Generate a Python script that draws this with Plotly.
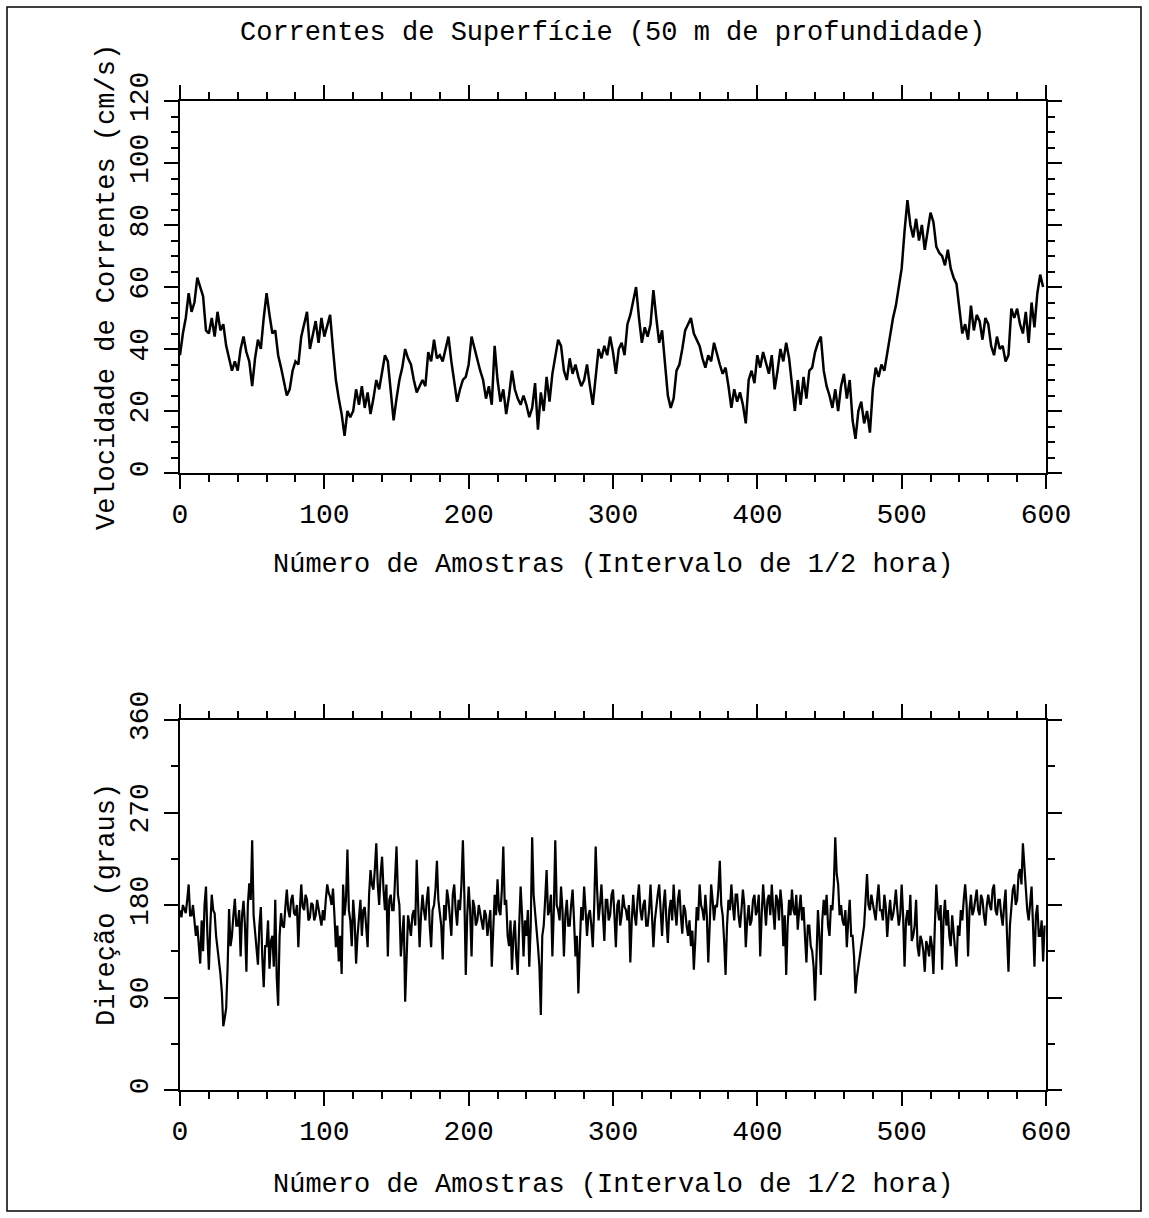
import plotly.graph_objects as go

# ---- data ----
amostras_vel = list(range(0, 600, 2))

velocidade = [
    38, 45, 50, 58, 52, 55, 63, 60, 57, 46,
    45, 50, 44, 52, 46, 48, 41, 37, 33, 36,
    33, 40, 44, 39, 36, 28, 37, 43, 40, 50,
    58, 51, 45, 46, 38, 34, 30, 25, 27, 33,
    36, 35, 44, 48, 52, 40, 45, 49, 42, 50,
    44, 48, 51, 40, 30, 24, 19, 12, 20, 18,
    20, 27, 22, 28, 21, 26, 19, 24, 30, 27,
    32, 38, 36, 27, 17, 24, 30, 34, 40, 37,
    35, 30, 26, 28, 30, 28, 39, 36, 43, 37,
    38, 36, 40, 44, 36, 29, 23, 27, 30, 31,
    35, 44, 40, 36, 33, 30, 24, 28, 22, 41,
    30, 23, 27, 19, 25, 33, 27, 24, 22, 25,
    22, 18, 21, 29, 14, 26, 20, 31, 23, 32,
    38, 43, 41, 33, 30, 37, 32, 35, 31, 28,
    30, 35, 28, 22, 31, 40, 37, 41, 38, 44,
    39, 32, 40, 42, 38, 48, 51, 55, 60, 50,
    42, 47, 44, 48, 59, 50, 42, 46, 34, 25,
    21, 24, 33, 35, 40, 46, 48, 50, 45, 43,
    41, 37, 34, 38, 36, 42, 38, 35, 32, 34,
    28, 21, 27, 23, 26, 22, 16, 30, 33, 29,
    38, 34, 39, 35, 32, 38, 27, 33, 40, 36,
    42, 37, 29, 20, 30, 22, 31, 24, 33, 34,
    39, 42, 44, 33, 28, 25, 21, 27, 20, 28,
    32, 24, 30, 17, 11, 20, 23, 16, 20, 13,
    27, 34, 31, 35, 33, 39, 44, 50, 54, 60,
    66, 78, 88, 80, 76, 82, 75, 80, 72, 78,
    84, 81, 73, 71, 70, 67, 72, 66, 63, 61,
    52, 45, 48, 43, 54, 46, 51, 49, 43, 50,
    48, 41, 38, 44, 40, 41, 36, 38, 53, 50,
    53, 48, 45, 52, 42, 55, 47, 58, 64, 60,
]

amostras_dir = list(range(0, 600))

direcao = [
    175, 168, 180, 176, 172, 185, 200, 170, 170, 180, 168, 150, 160, 140, 123, 165, 135, 180, 198, 150,
    117, 160, 190, 175, 172, 150, 139, 125, 113, 95, 62, 70, 80, 120, 176, 140, 150, 170, 186, 160,
    160, 175, 130, 170, 184, 160, 115, 180, 201, 185, 243, 170, 155, 140, 122, 160, 178, 130, 100, 140,
    140, 165, 118, 145, 150, 120, 185, 110, 82, 150, 172, 160, 158, 178, 195, 175, 168, 185, 190, 172,
    170, 180, 139, 175, 200, 178, 175, 190, 185, 165, 168, 182, 180, 165, 170, 185, 176, 168, 160, 175,
    165, 185, 200, 192, 188, 180, 196, 170, 139, 160, 125, 150, 113, 200, 170, 185, 234, 175, 165, 140,
    185, 165, 123, 150, 170, 185, 150, 175, 178, 160, 139, 190, 214, 200, 195, 215, 240, 200, 180, 210,
    227, 195, 175, 200, 130, 185, 190, 175, 175, 205, 237, 190, 180, 130, 150, 170, 86, 120, 170, 160,
    150, 170, 175, 160, 224, 180, 139, 170, 190, 175, 165, 185, 198, 160, 139, 175, 180, 195, 223, 185,
    175, 160, 127, 180, 165, 195, 185, 170, 150, 190, 200, 175, 160, 185, 175, 200, 243, 190, 112, 170,
    198, 175, 130, 185, 178, 160, 165, 180, 172, 165, 156, 175, 170, 150, 160, 175, 120, 165, 190, 170,
    205, 175, 170, 195, 237, 180, 185, 150, 140, 165, 117, 150, 165, 130, 112, 160, 198, 170, 130, 165,
    150, 175, 120, 160, 246, 190, 175, 160, 140, 120, 73, 150, 160, 185, 214, 170, 175, 190, 130, 175,
    243, 180, 175, 165, 198, 175, 130, 170, 185, 160, 160, 180, 195, 165, 130, 150, 94, 140, 178, 165,
    198, 175, 150, 170, 175, 160, 139, 180, 237, 195, 165, 180, 200, 170, 145, 185, 185, 165, 170, 190,
    195, 170, 139, 180, 185, 160, 170, 190, 178, 175, 165, 180, 124, 165, 190, 170, 160, 185, 200, 175,
    165, 180, 185, 160, 160, 175, 200, 170, 139, 165, 180, 190, 200, 170, 150, 180, 195, 165, 143, 175,
    185, 165, 200, 175, 160, 185, 195, 170, 152, 180, 175, 160, 150, 165, 140, 155, 117, 145, 178, 165,
    200, 180, 175, 165, 190, 170, 124, 160, 200, 185, 165, 180, 178, 195, 223, 180, 170, 145, 112, 160,
    185, 175, 200, 180, 165, 190, 190, 170, 158, 175, 195, 180, 139, 165, 180, 160, 165, 185, 190, 170,
    175, 190, 130, 170, 200, 180, 160, 185, 190, 170, 200, 175, 156, 190, 185, 165, 195, 180, 140, 170,
    112, 160, 185, 170, 195, 175, 170, 190, 156, 175, 190, 165, 178, 150, 124, 160, 160, 140, 135, 120,
    87, 130, 175, 150, 112, 165, 185, 170, 190, 160, 150, 180, 175, 200, 246, 210, 200, 170, 180, 165,
    160, 175, 139, 165, 185, 150, 150, 130, 94, 110, 120, 130, 140, 150, 160, 185, 210, 180, 175, 190,
    180, 170, 165, 185, 200, 175, 175, 165, 190, 178, 149, 170, 185, 165, 170, 180, 195, 175, 160, 170,
    200, 170, 120, 165, 175, 160, 190, 145, 150, 160, 185, 140, 130, 150, 145, 135, 115, 145, 140, 130,
    150, 140, 113, 160, 200, 175, 165, 180, 117, 165, 185, 160, 175, 150, 140, 170, 155, 140, 120, 160,
    150, 175, 165, 185, 200, 180, 130, 175, 190, 170, 175, 185, 195, 175, 170, 190, 185, 170, 160, 180,
    190, 180, 175, 195, 200, 175, 170, 185, 185, 170, 160, 180, 195, 150, 115, 160, 175, 195, 200, 180,
    185, 210, 215, 200, 240, 215, 190, 175, 165, 185, 198, 160, 120, 170, 180, 150, 150, 165, 125, 160,
]

x_ticks = [0, 100, 200, 300, 400, 500, 600]
vel_ticks = [0, 20, 40, 60, 80, 100, 120]
dir_ticks = [0, 90, 180, 270, 360]

titulo = "Correntes de Superfície (50 m de profundidade)"
x_titulo = "Número de Amostras (Intervalo de 1/2 hora)"
vel_titulo = "Velocidade de Correntes (cm/s)"
dir_titulo = "Direção (graus)"

# ---- layout ----
W, H = 1149, 1218
def px(x):
    return x / W
def py(y):
    return 1 - y / H

FONT = "Liberation Mono, DejaVu Sans Mono, monospace"
FS = 27
tickfont = dict(family=FONT, size=28, color="black")

common = dict(
    showline=True, linecolor="black", linewidth=2, mirror="allticks",
    ticks="outside", ticklen=14, tickwidth=2, tickcolor="black",
    showgrid=False, zeroline=False, tickfont=tickfont, automargin=False,
)

fig = go.Figure()
fig.add_trace(go.Scatter(x=amostras_vel, y=velocidade, mode="lines",
                         line=dict(color="black", width=2.5),
                         xaxis="x", yaxis="y", showlegend=False))
fig.add_trace(go.Scatter(x=amostras_dir, y=direcao, mode="lines",
                         line=dict(color="black", width=2.2),
                         xaxis="x2", yaxis="y2", showlegend=False))

fig.update_layout(
    width=W, height=H,
    margin=dict(l=0, r=0, t=0, b=0, pad=0, autoexpand=False),
    paper_bgcolor="white", plot_bgcolor="white",
    hovermode=False,
    xaxis=dict(domain=[px(180), px(1046)], anchor="y", range=[0, 600],
               tickvals=x_ticks,
               minor=dict(ticks="outside", ticklen=7, tickwidth=2, tickcolor="black", dtick=20, tick0=0),
               **common),
    yaxis=dict(domain=[py(473), py(101)], anchor="x", range=[0, 120],
               tickvals=vel_ticks, tickangle=-90, ticklabelstandoff=5,
               minor=dict(ticks="outside", ticklen=7, tickwidth=2, tickcolor="black", dtick=5, tick0=0),
               **common),
    xaxis2=dict(domain=[px(180), px(1046)], anchor="y2", range=[0, 600],
                tickvals=x_ticks,
                minor=dict(ticks="outside", ticklen=7, tickwidth=2, tickcolor="black", dtick=20, tick0=0),
                **common),
    yaxis2=dict(domain=[py(1090), py(720)], anchor="x2", range=[0, 360],
                tickvals=dir_ticks, tickangle=-90, ticklabelstandoff=5,
                minor=dict(ticks="outside", ticklen=7, tickwidth=2, tickcolor="black", dtick=45, tick0=0),
                **common),
)

ann_font = dict(family=FONT, size=FS, color="black")
fig.add_annotation(text=titulo, x=px(612), y=py(33), xref="paper", yref="paper",
                   xanchor="center", yanchor="middle", showarrow=False, font=ann_font)
fig.add_annotation(text=x_titulo, x=px(613), y=py(565), xref="paper", yref="paper",
                   xanchor="center", yanchor="middle", showarrow=False, font=ann_font)
fig.add_annotation(text=x_titulo, x=px(613), y=py(1185), xref="paper", yref="paper",
                   xanchor="center", yanchor="middle", showarrow=False, font=ann_font)
fig.add_annotation(text=vel_titulo, x=px(107), y=py(287), xref="paper", yref="paper",
                   xanchor="center", yanchor="middle", textangle=-90, showarrow=False, font=ann_font)
fig.add_annotation(text=dir_titulo, x=px(107), y=py(905), xref="paper", yref="paper",
                   xanchor="center", yanchor="middle", textangle=-90, showarrow=False, font=ann_font)

fig.add_shape(type="rect", xref="paper", yref="paper",
              x0=px(7), x1=px(1141), y0=py(1211), y1=py(7),
              line=dict(color="black", width=1.5), fillcolor="rgba(0,0,0,0)", layer="above")

fig.write_html("out.html", config={"displayModeBar": False},
               post_script="document.body.style.margin='0';")
